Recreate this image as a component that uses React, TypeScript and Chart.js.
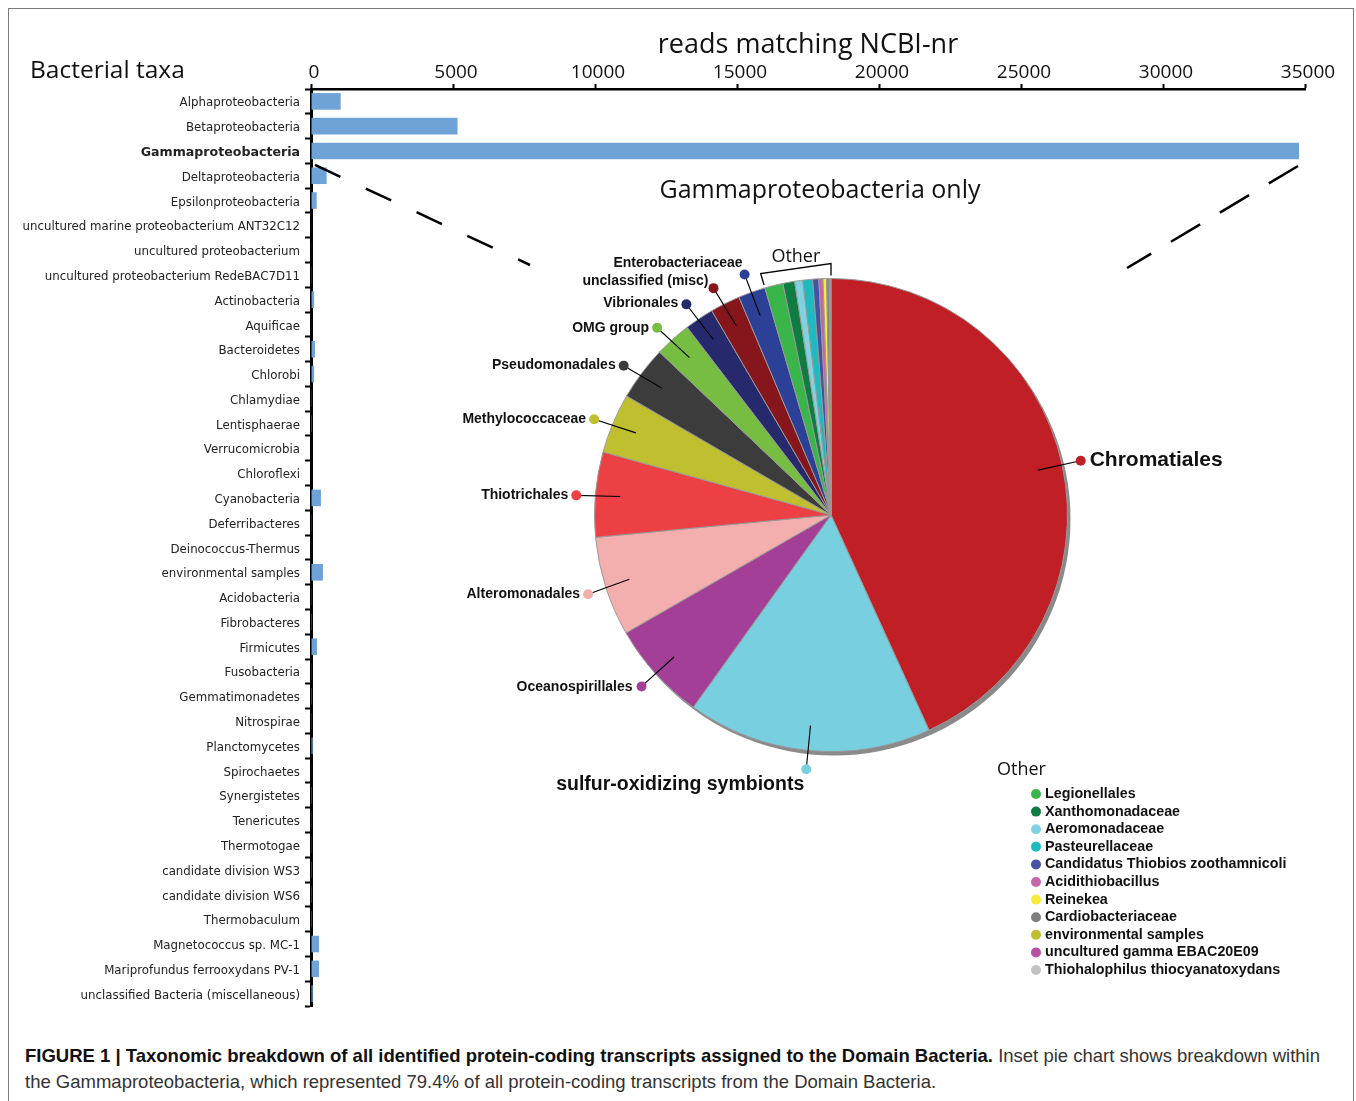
import React, { useEffect, useRef } from "react";
import { Chart, registerables } from "chart.js";

Chart.register(...registerables);

// ---------------- data ----------------
const taxa: string[] = [
  "Alphaproteobacteria",
  "Betaproteobacteria",
  "Gammaproteobacteria",
  "Deltaproteobacteria",
  "Epsilonproteobacteria",
  "uncultured marine proteobacterium ANT32C12",
  "uncultured proteobacterium",
  "uncultured proteobacterium RedeBAC7D11",
  "Actinobacteria",
  "Aquificae",
  "Bacteroidetes",
  "Chlorobi",
  "Chlamydiae",
  "Lentisphaerae",
  "Verrucomicrobia",
  "Chloroflexi",
  "Cyanobacteria",
  "Deferribacteres",
  "Deinococcus-Thermus",
  "environmental samples",
  "Acidobacteria",
  "Fibrobacteres",
  "Firmicutes",
  "Fusobacteria",
  "Gemmatimonadetes",
  "Nitrospirae",
  "Planctomycetes",
  "Spirochaetes",
  "Synergistetes",
  "Tenericutes",
  "Thermotogae",
  "candidate division WS3",
  "candidate division WS6",
  "Thermobaculum",
  "Magnetococcus sp. MC-1",
  "Mariprofundus ferrooxydans PV-1",
  "unclassified Bacteria (miscellaneous)",
];

const reads: number[] = [
  1045, 5160, 34790, 550, 200, 15, 20, 10, 110, 15, 140, 110, 10, 5, 20, 20,
  350, 10, 15, 420, 10, 5, 210, 10, 5, 10, 60, 15, 5, 10, 10, 5, 5, 5, 280,
  280, 60,
];

const xTickStep = 5000;
const xMax = 35000;

const gammaGroups: string[] = [
  "Chromatiales",
  "sulfur-oxidizing symbionts",
  "Oceanospirillales",
  "Alteromonadales",
  "Thiotrichales",
  "Methylococcaceae",
  "Pseudomonadales",
  "OMG group",
  "Vibrionales",
  "unclassified (misc)",
  "Enterobacteriaceae",
  "Legionellales",
  "Xanthomonadaceae",
  "Aeromonadaceae",
  "Pasteurellaceae",
  "Candidatus Thiobios zoothamnicoli",
  "Acidithiobacillus",
  "Reinekea",
  "Cardiobacteriaceae",
  "environmental samples",
  "uncultured gamma EBAC20E09",
  "Thiohalophilus thiocyanatoxydans",
];

const gammaShares: number[] = [
  43.2, 16.7, 6.8, 6.8, 5.8, 4.1, 3.7, 2.5, 2.0, 2.05, 1.85, 1.25, 0.8, 0.55,
  0.67, 0.42, 0.28, 0.25, 0.17, 0.05, 0.04, 0.03,
];

const gammaColors: string[] = [
  "#C01F26",
  "#77CFDF",
  "#A43F97",
  "#F5AEAE",
  "#EC4044",
  "#BFBF2F",
  "#3C3C3C",
  "#76BD42",
  "#262A6D",
  "#86161B",
  "#2D4097",
  "#39B54A",
  "#0F7D41",
  "#80D2E2",
  "#1DBABF",
  "#4553A4",
  "#C765AA",
  "#F5EB3B",
  "#7F7F7F",
  "#BEBE2E",
  "#B552A4",
  "#C2C2C2",
];

const otherStart = 11; // first slice grouped as "Other"

// ---------------- layout / style ----------------
const W = 1346;
const H = 1020;
const MYRIAD = "'Open Sans', 'Noto Sans', sans-serif";
const HELV = "'Liberation Sans', Arial, sans-serif";

if (typeof document !== "undefined") {
  document.body.style.margin = "8px 0 0 8px";
  document.body.style.overflow = "hidden";
}

type Callout = { align: "left" | "right"; dx: number; dy: number; size: number; da: number };
const callouts: Callout[] = [
  { align: "left", dx: 9, dy: -1, size: 21, da: 0 },
  { align: "right", dx: -2, dy: 15, size: 19.5, da: 0 },
  { align: "right", dx: -9, dy: 1, size: 14, da: 0 },
  { align: "right", dx: -8, dy: 0, size: 14, da: -0.4 },
  { align: "right", dx: -8, dy: 0, size: 14, da: -0.6 },
  { align: "right", dx: -8, dy: 0, size: 14, da: -0.8 },
  { align: "right", dx: -8, dy: -1, size: 14, da: -1.1 },
  { align: "right", dx: -8, dy: 0, size: 14, da: -0.9 },
  { align: "right", dx: -8, dy: -1, size: 14, da: -0.6 },
  { align: "right", dx: -5, dy: -7, size: 14, da: -0.8 },
  { align: "right", dx: -2, dy: -11, size: 14, da: -0.2 },
];

const barOverlay = {
  id: "barOverlay",
  afterDraw(chart: any) {
    const { ctx } = chart;
    const xs = chart.scales.x;
    const ys = chart.scales.y;
    ctx.save();
    ctx.fillStyle = "#111";
    ctx.font = `24.5px ${MYRIAD}`;
    ctx.textAlign = "left";
    ctx.textBaseline = "middle";
    ctx.fillText("Bacterial taxa", 22, 63);

    // dashed connector lines from the Gammaproteobacteria bar to the inset
    const gy = ys.getPixelForValue(2);
    ctx.strokeStyle = "#000";
    ctx.lineWidth = 2.5;
    ctx.setLineDash([28, 28]);
    ctx.beginPath();
    ctx.moveTo(xs.getPixelForValue(0) + 4, gy + 14);
    ctx.lineTo(522, 257);
    ctx.stroke();
    ctx.setLineDash([34, 23]);
    ctx.beginPath();
    ctx.moveTo(xs.getPixelForValue(reads[2]) - 1, gy + 15);
    ctx.lineTo(1119, 260);
    ctx.stroke();
    ctx.restore();
  },
};

const pieDecor = {
  id: "pieDecor",
  beforeDatasetsDraw(chart: any) {
    const meta = chart.getDatasetMeta(0);
    const a0 = meta.data[0];
    if (!a0) return;
    const { x, y, outerRadius } = a0.getProps(["x", "y", "outerRadius"], true);
    const ctx = chart.ctx;
    ctx.save();
    ctx.fillStyle = "#8a8a8a";
    ctx.beginPath();
    ctx.arc(x + 3, y + 4, outerRadius, 0, Math.PI * 2);
    ctx.fill();
    ctx.restore();
  },
  afterDatasetsDraw(chart: any) {
    const meta = chart.getDatasetMeta(0);
    const arcs = meta.data;
    if (!arcs.length) return;
    const ctx = chart.ctx;
    const { x: cx, y: cy, outerRadius: r } = arcs[0].getProps(["x", "y", "outerRadius"], true);
    const colors = chart.data.datasets[0].backgroundColor;
    const labels = chart.data.labels;
    ctx.save();

    // title
    ctx.fillStyle = "#111";
    ctx.font = `25px ${MYRIAD}`;
    ctx.textAlign = "center";
    ctx.textBaseline = "middle";
    ctx.fillText("Gammaproteobacteria only", cx - 11, cy - 324);

    // callouts
    for (let i = 0; i < callouts.length; i++) {
      const arc = arcs[i];
      const { startAngle, endAngle } = arc.getProps(["startAngle", "endAngle"], true);
      const c = callouts[i];
      const a = (startAngle + endAngle) / 2;
      const ad = a + (c.da * Math.PI) / 180;
      const x1 = cx + Math.cos(a) * r * 0.895;
      const y1 = cy + Math.sin(a) * r * 0.895;
      const dxp = cx + Math.cos(ad) * (r + 19);
      const dyp = cy + Math.sin(ad) * (r + 19);
      ctx.strokeStyle = "#000";
      ctx.lineWidth = 1.1;
      ctx.beginPath();
      ctx.moveTo(x1, y1);
      ctx.lineTo(dxp, dyp);
      ctx.stroke();
      ctx.fillStyle = colors[i];
      ctx.beginPath();
      ctx.arc(dxp, dyp, 5, 0, Math.PI * 2);
      ctx.fill();
      ctx.fillStyle = "#111";
      ctx.font = `bold ${c.size}px ${HELV}`;
      ctx.textAlign = c.align;
      ctx.textBaseline = "middle";
      ctx.fillText(labels[i], dxp + c.dx, dyp + c.dy);
    }

    // "Other" bracket
    const sA = arcs[otherStart].getProps(["startAngle"], true).startAngle;
    const eA = arcs[arcs.length - 1].getProps(["endAngle"], true).endAngle;
    const pt = (ang: number, rr: number) => [cx + Math.cos(ang) * rr, cy + Math.sin(ang) * rr];
    const lb = pt(sA, r + 3), lt = pt(sA, r + 15), rt = pt(eA, r + 15), rb = pt(eA, r + 3);
    ctx.strokeStyle = "#000";
    ctx.lineWidth = 1.3;
    ctx.beginPath();
    ctx.moveTo(lb[0], lb[1]);
    ctx.lineTo(lt[0], lt[1]);
    ctx.lineTo(rt[0], rt[1]);
    ctx.lineTo(rb[0], rb[1]);
    ctx.stroke();
    ctx.fillStyle = "#111";
    ctx.font = `18px ${MYRIAD}`;
    ctx.textAlign = "center";
    ctx.textBaseline = "middle";
    ctx.fillText("Other", (lt[0] + rt[0]) / 2, (lt[1] + rt[1]) / 2 - 12);

    // legend for "Other"
    const lx = cx + 166;
    const ly = cy + 255;
    ctx.textAlign = "left";
    ctx.font = `18px ${MYRIAD}`;
    ctx.fillText("Other", lx, ly);
    ctx.font = `bold 14.3px ${HELV}`;
    for (let i = otherStart; i < labels.length; i++) {
      const yy = ly + 24 + (i - otherStart) * 17.6;
      ctx.fillStyle = colors[i];
      ctx.beginPath();
      ctx.arc(lx + 39, yy, 5, 0, Math.PI * 2);
      ctx.fill();
      ctx.fillStyle = "#111";
      ctx.fillText(labels[i], lx + 48, yy);
    }
    ctx.restore();
  },
};

export default function App() {
  const barRef = useRef<HTMLCanvasElement>(null);
  const pieRef = useRef<HTMLCanvasElement>(null);

  useEffect(() => {
    const bar = new Chart(barRef.current!, {
      type: "bar",
      data: {
        labels: taxa,
        datasets: [
          {
            data: reads,
            backgroundColor: "#6FA3D8",
            barPercentage: 0.67,
            categoryPercentage: 1,
          },
        ],
      },
      options: {
        indexAxis: "y",
        responsive: false,
        animation: false,
        layout: { padding: { left: 0, right: 49, top: 0, bottom: 22 } },
        plugins: { legend: { display: false }, tooltip: { enabled: false } },
        scales: {
          x: {
            position: "top",
            min: 0,
            max: xMax,
            ticks: {
              stepSize: xTickStep,
              font: { family: MYRIAD, size: 19 },
              color: "#111",
              padding: 0,
              labelOffset: 3,
              maxRotation: 0,
              callback: (v: any) => String(v),
            },
            grid: { drawOnChartArea: false, tickLength: 5, tickColor: "#000", tickWidth: 2 },
            border: { color: "#000", width: 2.5 },
            title: {
              display: true,
              text: "reads matching NCBI-nr",
              font: { family: MYRIAD, size: 27 },
              color: "#111",
              padding: { top: 21, bottom: 0 },
            },
            afterFit: (s: any) => {
              s.height = 81;
            },
          },
          y: {
            ticks: {
              autoSkip: false,
              padding: 5,
              labelOffset: 2,
              color: "#222",
              font: (c: any) => ({
                family: "'DejaVu Sans', Verdana, sans-serif",
                size: c.index === 2 ? 12.6 : 11.8,
                weight: c.index === 2 ? "bold" : "normal",
              }),
            },
            grid: { drawOnChartArea: false, tickLength: 6, tickColor: "#000", tickWidth: 2, offset: true },
            border: { color: "#000", width: 3 },
            afterFit: (s: any) => {
              s.width = 303;
            },
          },
        },
      } as any,
      plugins: [barOverlay],
    });

    const pie = new Chart(pieRef.current!, {
      type: "pie",
      data: {
        labels: gammaGroups,
        datasets: [
          {
            data: gammaShares,
            backgroundColor: gammaColors,
            borderColor: "#9a9a9a",
            borderWidth: 1,
          },
        ],
      },
      options: {
        responsive: false,
        animation: false,
        layout: { padding: { left: 586, right: 286, top: 270, bottom: 276 } },
        plugins: { legend: { display: false }, tooltip: { enabled: false } },
      } as any,
      plugins: [pieDecor],
    });

    return () => {
      bar.destroy();
      pie.destroy();
    };
  }, []);

  return (
    <div style={{ position: "relative", width: W, height: 1093, overflow: "hidden" }}>
      <div
        style={{
          position: "absolute",
          left: 0,
          top: 0,
          width: 1346,
          height: 1110,
          border: "1.5px solid #7a7a7a",
          boxSizing: "border-box",
        }}
      />
      <canvas ref={barRef} width={W} height={H} style={{ position: "absolute", left: 0, top: 0 }} />
      <canvas ref={pieRef} width={W} height={H} style={{ position: "absolute", left: 0, top: 0 }} />
      <div
        style={{
          position: "absolute",
          left: 17,
          top: 1035,
          fontFamily: HELV,
          fontSize: 18.5,
          lineHeight: "26px",
          color: "#333",
          whiteSpace: "nowrap",
        }}
      >
        <span style={{ fontWeight: "bold", color: "#111" }}>
          FIGURE 1 | Taxonomic breakdown of all identified protein-coding transcripts assigned to the Domain Bacteria.
        </span>{" "}
        Inset pie chart shows breakdown within
        <br />
        the Gammaproteobacteria, which represented 79.4% of all protein-coding transcripts from the Domain Bacteria.
      </div>
    </div>
  );
}
